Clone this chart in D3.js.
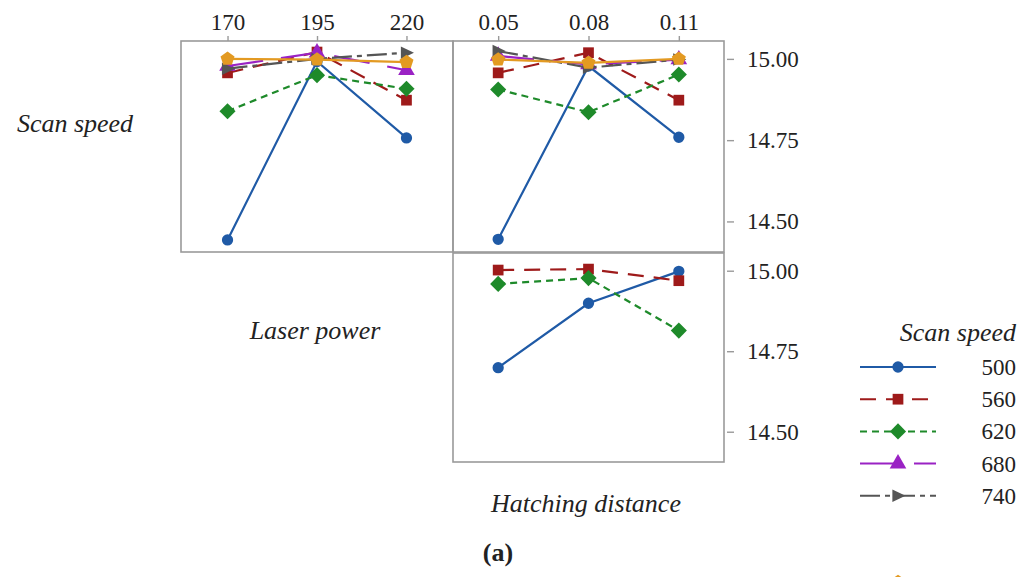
<!DOCTYPE html>
<html><head><meta charset="utf-8">
<script src="https://cdn.jsdelivr.net/npm/d3@7"></script>
<style>body{margin:0;background:#fff}svg{display:block}
svg text{font-family:"Liberation Serif","DejaVu Serif","Times New Roman",serif;}</style>
</head><body>
<svg id="c" width="1035" height="577"></svg>
<script>
// ---- data ----
const laserPower = ["170", "195", "220"];
const hatching = ["0.05", "0.08", "0.11"];
const scanSpeeds = ["500", "560", "620", "680", "740", "800"];
const yTicks = [14.50, 14.75, 15.00];

// Scan speed lines vs Laser power (panel 1)
const speedByPower = {
  "500": [14.443, 14.992, 14.757],
  "560": [14.957, 15.021, 14.873],
  "620": [14.839, 14.950, 14.908],
  "680": [14.978, 15.019, 14.965],
  "740": [14.970, 15.000, 15.019],
  "800": [15.000, 14.998, 14.990]
};
// Scan speed lines vs Hatching distance (panel 2)
const speedByHatch = {
  "500": [14.445, 14.978, 14.759],
  "560": [14.957, 15.019, 14.873],
  "620": [14.906, 14.836, 14.952],
  "680": [15.009, 14.983, 14.998],
  "740": [15.024, 14.973, 14.998],
  "800": [14.998, 14.988, 15.000]
};
// Laser power lines vs Hatching distance (panel 3)
const powerByHatch = {
  "170": [14.699, 14.899, 14.998],
  "195": [15.002, 15.005, 14.969],
  "220": [14.959, 14.977, 14.814]
};

// ---- styles ----
const colors = ["#1f5aa6", "#9e1a1a", "#1e8a2a", "#9a22c4", "#555555", "#e39a22"];
const dashes = [null, "16,10", "7,5", "36,18", "20,5,5,5", null];
const pentagon = {draw(ctx, size){ const r = Math.sqrt(size/2.4);
  for(let i=0;i<5;i++){const a=-Math.PI/2+i*2*Math.PI/5; const x=r*Math.cos(a), y=r*Math.sin(a); i?ctx.lineTo(x,y):ctx.moveTo(x,y);} ctx.closePath(); }};
const triRight = {draw(ctx, size){ const h=Math.sqrt(size*1.3); ctx.moveTo(h*0.6,0); ctx.lineTo(-h*0.45,-h*0.5); ctx.lineTo(-h*0.45,h*0.5); ctx.closePath(); }};
const rhombus = {draw(ctx, size){ const r=Math.sqrt(size/2); ctx.moveTo(0,-r); ctx.lineTo(r,0); ctx.lineTo(0,r); ctx.lineTo(-r,0); ctx.closePath(); }};
const symbols = [d3.symbolCircle, d3.symbolSquare, rhombus, d3.symbolTriangle, triRight, pentagon];
const symSizes = [100, 115, 130, 120, 120, 130];

const svg = d3.select("#c");
const ink = "#222";
const border = "#9a9a9a";

const domainY = [14.406, 15.055];
const panels = [
  {x0:181, x1:453, y0:41, y1:252, cats: laserPower, data: speedByPower, keys: scanSpeeds, pad:0.52},
  {x0:453, x1:724, y0:41, y1:252, cats: hatching, data: speedByHatch, keys: scanSpeeds, pad:0.5},
  {x0:453, x1:724, y0:253, y1:462, cats: hatching, data: powerByHatch, keys: laserPower, pad:0.5}
];

panels.forEach(p => {
  p.x = d3.scalePoint().domain(p.cats).range([p.x0, p.x1]).padding(p.pad);
  p.y = d3.scaleLinear().domain(domainY).range([p.y1, p.y0]);
});

// frame
const frameG = svg.append("g").attr("fill","none").attr("stroke",border).attr("stroke-width",1.6);
panels.forEach(p => frameG.append("rect").attr("x",p.x0).attr("y",p.y0).attr("width",p.x1-p.x0).attr("height",p.y1-p.y0));

// top axes
[panels[0], panels[1]].forEach(p => {
  const g = svg.append("g").attr("transform",`translate(0,${p.y0})`)
    .call(d3.axisTop(p.x).tickSize(5).tickPadding(6));
  g.select(".domain").remove();
  g.attr("font-family", null).attr("font-size", null);
  g.selectAll(".tick line").attr("stroke",border).attr("stroke-width",1.4);
  g.selectAll("text").style("font-size","23px").attr("fill",ink);
});

// right axes
[panels[1], panels[2]].forEach(p => {
  const g = svg.append("g").attr("transform",`translate(${p.x1+3},0)`)
    .call(d3.axisRight(p.y).tickValues(yTicks).tickFormat(d3.format(".2f")).tickSize(7).tickPadding(13));
  g.select(".domain").remove();
  g.attr("font-family", null).attr("font-size", null);
  g.selectAll(".tick line").attr("stroke",border).attr("stroke-width",1.4);
  g.selectAll("text").style("font-size","23px").attr("fill",ink);
});

// series
panels.forEach(p => {
  const g = svg.append("g");
  p.keys.forEach((k, i) => {
    const vals = p.data[k];
    const pts = vals.map((v, j) => [p.x(p.cats[j]), p.y(v)]);
    g.append("path").attr("d", d3.line()(pts)).attr("fill","none")
      .attr("stroke", colors[i]).attr("stroke-width", 2.2)
      .attr("stroke-dasharray", dashes[i]);
    g.selectAll(null).data(pts).join("path")
      .attr("transform", d => `translate(${d[0]},${d[1]})`)
      .attr("d", d3.symbol(symbols[i], symSizes[i]))
      .attr("fill", colors[i]);
  });
});

// axis titles
const ital = (x, y, t, anchor="middle") => svg.append("text").attr("x",x).attr("y",y)
  .attr("text-anchor",anchor).attr("font-style","italic")
  .style("font-size","26px").attr("fill",ink).text(t);
ital(75, 132, "Scan speed");
ital(315, 339, "Laser power");
ital(586, 512, "Hatching distance");

// legend
ital(1016, 341, "Scan speed", "end");
const legY = d3.scalePoint().domain(scanSpeeds).range([367, 528]);
scanSpeeds.forEach((s, i) => {
  const y = i < 5 ? legY(s) : 582;
  svg.append("line").attr("x1",860).attr("x2",936).attr("y1",y).attr("y2",y)
    .attr("stroke",colors[i]).attr("stroke-width",2).attr("stroke-dasharray",dashes[i]);
  svg.append("path").attr("transform",`translate(898,${y})`)
    .attr("d", d3.symbol(symbols[i], symSizes[i])).attr("fill",colors[i]);
  if (i < 5) svg.append("text").attr("x",1016).attr("y",y+8).attr("text-anchor","end")
    .style("font-size","23px").attr("fill",ink).text(s);
});

svg.append("text").attr("x",498).attr("y",561).attr("text-anchor","middle")
  .attr("font-weight","bold").style("font-size","26px").attr("fill",ink).text("(a)");
</script>
</body></html>
